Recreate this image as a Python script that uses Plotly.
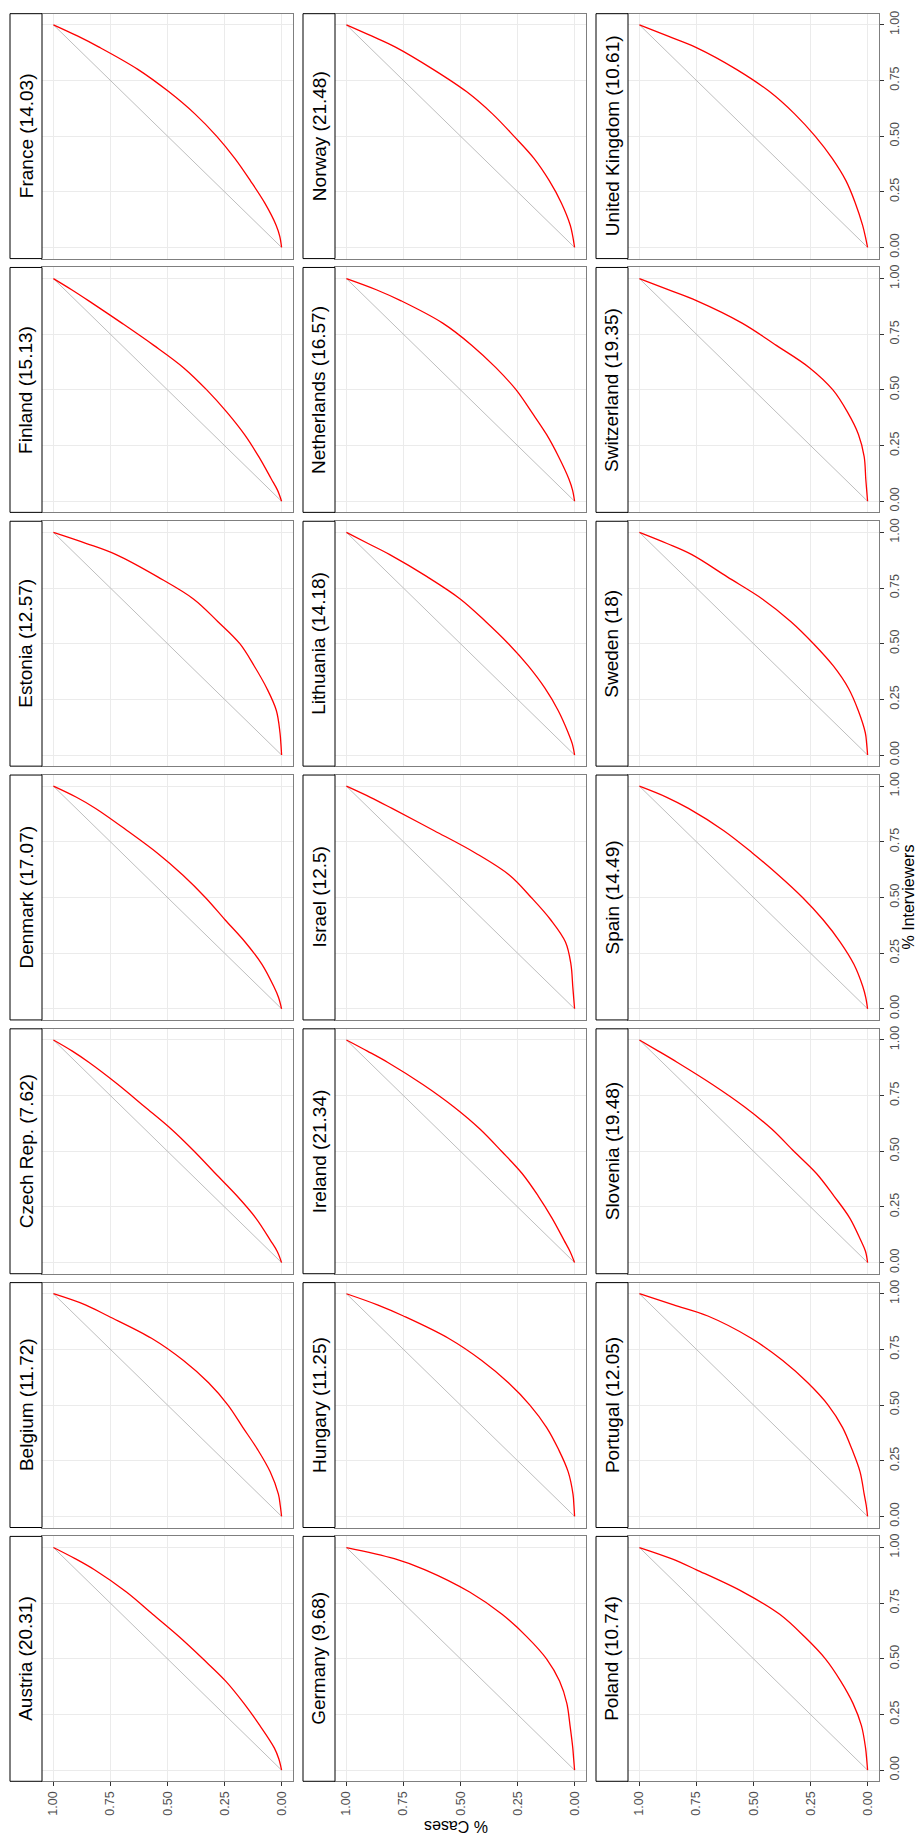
import plotly.graph_objects as go

# Lorenz curves of cases over interviewers, one panel per country
countries = ["Austria", "Belgium", "Czech Rep.", "Denmark", "Estonia", "Finland", "France",
             "Germany", "Hungary", "Ireland", "Israel", "Lithuania", "Netherlands", "Norway",
             "Poland", "Portugal", "Slovenia", "Spain", "Sweden", "Switzerland", "United Kingdom"]
index_values = [20.31, 11.72, 7.62, 17.07, 12.57, 15.13, 14.03,
                9.68, 11.25, 21.34, 12.5, 14.18, 16.57, 21.48,
                10.74, 12.05, 19.48, 14.49, 18, 19.35, 10.61]

# cumulative share of interviewers
share_interviewers = [0, 0.05, 0.1, 0.2, 0.3, 0.4, 0.5, 0.6, 0.7, 0.8, 0.9, 0.95, 1.0]

# cumulative share of cases at each interviewer share
austria = [0, .012, .032, .095, .165, .245, .345, .45, .565, .68, .82, .905, 1]
belgium = [0, .006, .014, .05, .105, .17, .235, .32, .43, .57, .76, .86, 1]
czech_rep = [0, .019, .049, .113, .196, .29, .383, .484, .6, .717, .845, .917, 1]
denmark = [0, .013, .034, .086, .16, .248, .334, .432, .545, .676, .815, .899, 1]
estonia = [0, .003, .007, .023, .065, .12, .183, .28, .385, .543, .725, .855, 1]
finland = [0, .018, .045, .1, .163, .24, .328, .43, .56, .70, .845, .92, 1]
france = [0, .008, .024, .074, .137, .205, .285, .38, .495, .63, .80, .895, 1]
germany = [0, .004, .008, .02, .034, .066, .123, .21, .318, .46, .655, .79, 1]
hungary = [0, .003, .007, .028, .07, .123, .196, .29, .407, .553, .75, .864, 1]
ireland = [0, .02, .046, .099, .16, .23, .32, .415, .53, .665, .82, .908, 1]
israel = [0, .004, .008, .016, .04, .105, .19, .285, .435, .615, .80, .895, 1]
lithuania = [0, .01, .028, .072, .13, .203, .29, .39, .5, .645, .81, .905, 1]
netherlands = [0, .009, .025, .07, .123, .188, .256, .345, .45, .578, .76, .869, 1]
norway = [0, .008, .019, .058, .111, .178, .266, .36, .474, .62, .785, .89, 1]
poland = [0, .004, .009, .027, .064, .118, .185, .277, .385, .545, .75, .86, 1]
portugal = [0, .006, .015, .033, .068, .11, .173, .262, .372, .51, .70, .85, 1]
slovenia = [0, .009, .03, .078, .148, .224, .323, .42, .54, .68, .835, .917, 1]
spain = [0, .008, .021, .06, .12, .195, .285, .39, .505, .63, .785, .88, 1]
sweden = [0, .004, .01, .041, .084, .15, .237, .337, .46, .615, .77, .879, 1]
switzerland = [0, .004, .008, .015, .04, .088, .152, .255, .4, .55, .748, .874, 1]
united_kingdom = [0, .01, .022, .054, .095, .155, .23, .32, .43, .575, .755, .877, 1]

curves = [austria, belgium, czech_rep, denmark, estonia, finland, france,
          germany, hungary, ireland, israel, lithuania, netherlands, norway,
          poland, portugal, slovenia, spain, sweden, switzerland, united_kingdom]

tick_values = [0, 0.25, 0.5, 0.75, 1.0]
tick_labels = ["0.00", "0.25", "0.50", "0.75", "1.00"]

W, H = 918, 1840
FONT = "Liberation Sans, Arial, Helvetica, sans-serif"

# panel geometry (pixels); the chart is laid out turned a quarter turn
STRIP_LEFT0, COL_PITCH, STRIP_W, PANEL_W = 10, 293, 32, 251
ROW_TOP0, ROW_PITCH, PANEL_H = 10.7, 254.2, 245.3

fig = go.Figure()
layout_axes = {}
shapes = []
annotations = []

for k, (name, val, cases) in enumerate(zip(countries, index_values, curves)):
    col = k // 7
    row_from_bottom = k % 7
    row_from_top = 6 - row_from_bottom
    strip_l = STRIP_LEFT0 + COL_PITCH * col
    pl = strip_l + STRIP_W
    pr = pl + PANEL_W
    top = ROW_TOP0 + ROW_PITCH * row_from_top
    bot = top + PANEL_H
    n = k + 1
    sfx = "" if n == 1 else str(n)

    fig.add_trace(go.Scatter(x=[0, 1], y=[0, 1], mode="lines",
                             line=dict(color="#bebebe", width=1),
                             xaxis="x" + sfx, yaxis="y" + sfx,
                             hoverinfo="skip", showlegend=False))
    fig.add_trace(go.Scatter(x=cases, y=share_interviewers, mode="lines",
                             line=dict(color="#ff0000", width=1.3, shape="spline", smoothing=1.0),
                             xaxis="x" + sfx, yaxis="y" + sfx,
                             showlegend=False))

    show_x = row_from_bottom == 0
    show_y = col == 2
    common = dict(tickvals=tick_values, ticktext=tick_labels, tickangle=-90,
                  tickfont=dict(size=12.5, color="#4d4d4d", family=FONT),
                  ticklen=4, tickwidth=1, tickcolor="#333333",
                  showgrid=True, gridcolor="#ebebeb", gridwidth=1,
                  zeroline=False, showline=True, mirror=True,
                  linecolor="#7f7f7f", linewidth=1, fixedrange=True)
    layout_axes["xaxis" + sfx] = dict(common, domain=[pl / W, pr / W], anchor="y" + sfx,
                                      range=[1.05, -0.05], showticklabels=show_x,
                                      ticks="outside" if show_x else "")
    layout_axes["yaxis" + sfx] = dict(common, domain=[1 - bot / H, 1 - top / H], anchor="x" + sfx,
                                      side="right", range=[-0.05, 1.05], showticklabels=show_y,
                                      ticks="outside" if show_y else "")

    shapes.append(dict(type="rect", xref="paper", yref="paper",
                       x0=strip_l / W, x1=pl / W, y0=1 - bot / H, y1=1 - top / H,
                       line=dict(color="black", width=1), fillcolor="white", layer="above"))
    annotations.append(dict(xref="paper", yref="paper",
                            x=(strip_l + pl) / 2 / W, y=1 - (top + bot) / 2 / H,
                            text=f"{name} ({val:g})", textangle=-90, showarrow=False,
                            xanchor="center", yanchor="middle",
                            font=dict(size=19, color="black", family=FONT)))

plot_top = ROW_TOP0
plot_bot = ROW_TOP0 + 6 * ROW_PITCH + PANEL_H

annotations.append(dict(xref="paper", yref="paper", x=456 / W,
                        y=1 - 1827 / H, text="% Cases", textangle=180, showarrow=False,
                        xanchor="center", yanchor="middle",
                        font=dict(size=16, color="black", family=FONT)))
annotations.append(dict(xref="paper", yref="paper", x=908 / W,
                        y=1 - (plot_top + plot_bot) / 2 / H, text="% Interviewers",
                        textangle=-90, showarrow=False, xanchor="center", yanchor="middle",
                        font=dict(size=16, color="black", family=FONT)))

fig.update_layout(width=W, height=H, margin=dict(l=0, r=0, t=0, b=0),
                  paper_bgcolor="white", plot_bgcolor="white",
                  font=dict(family=FONT), shapes=shapes, annotations=annotations,
                  **layout_axes)

fig.write_html("out.html")
